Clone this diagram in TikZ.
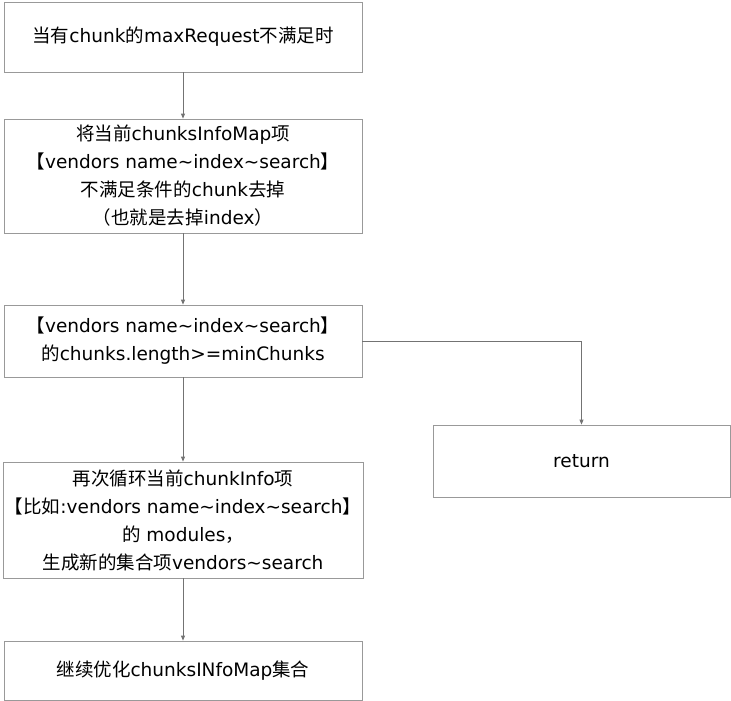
\documentclass[tikz,border=0pt]{standalone}
\usepackage{fontspec}
\setmainfont{DejaVu Sans}
\newfontfamily\cjkfont{Noto Sans CJK SC}
\newcommand{\zh}[1]{{\cjkfont #1}}
\newcommand{\tl}{\textasciitilde}
\usepackage{tikz}
\usetikzlibrary{positioning, calc, arrows.meta}

\tikzset{
  flowbox/.style={draw=black!40, line width=0.8pt, align=center, inner sep=2pt,
    minimum width=358pt, font=\fontsize{18.5}{28}\selectfont},
  flowline/.style={draw=black!55, line width=0.8pt, -{Triangle[length=5pt,width=4pt]}}
}

\begin{document}
\begin{tikzpicture}[x=1pt, y=-1pt]
    \useasboundingbox (0,0) rectangle (731,701);

    % Boxes
    \node[flowbox, minimum height=70pt] (cond) at (183,37)
      {\zh{当有}chunk\zh{的}maxRequest\zh{不满足时}};
    \node[flowbox, minimum height=114pt] (trim) at (183,176)
      {\zh{将当前}chunksInfoMap\zh{项}\\\zh{【}vendors name\tl index\tl search\zh{】}\\
       \zh{不满足条件的}chunk\zh{去掉}\\\zh{（也就是去掉}index\zh{）}};
    \node[flowbox, minimum height=72pt] (check) at (183,341)
      {\zh{【}vendors name\tl index\tl search\zh{】}\\\zh{的}chunks.length>=minChunks};
    \node[flowbox, minimum height=116pt] (loop) at (183,520)
      {\zh{再次循环当前}chunkInfo\zh{项}\\\zh{【比如}:vendors name\tl index\tl search\zh{】}\\
       \zh{的} modules\zh{，}\\\zh{生成新的集合项}vendors\tl search};
    \node[flowbox, minimum height=59pt] (goon) at (183,670.5)
      {\zh{继续优化}chunksINfoMap\zh{集合}};
    \node[flowbox, minimum width=297pt, minimum height=72pt] (ret) at (581.5,461) {return};

    % Connectors
    \draw[flowline] (cond) -- (trim);
    \draw[flowline] (trim) -- (check);
    \draw[flowline] (check) -- (loop);
    \draw[flowline] (loop) -- (goon);
    \draw[flowline] (check.east) -| (ret.north);
\end{tikzpicture}
\end{document}
